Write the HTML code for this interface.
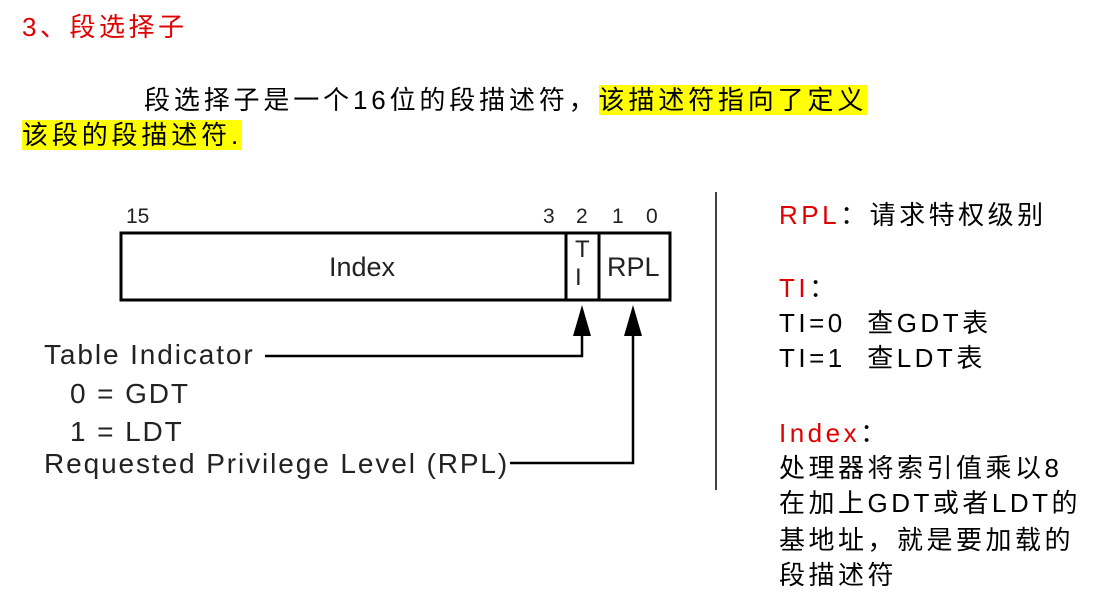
<!DOCTYPE html>
<html><head><meta charset="utf-8"><style>
body{margin:0;width:1108px;height:611px;background:#fff;position:relative;overflow:hidden;font-family:"Liberation Sans","Noto Sans CJK SC",sans-serif;}
.t{position:absolute;white-space:nowrap;font-size:26px;letter-spacing:3.5px;line-height:32px;color:#000}
.r{color:#e00000}
.hl{background:#ffff00}
.d{position:absolute;white-space:nowrap;font-family:"Liberation Sans",sans-serif;color:#222}
.b{font-size:28px;letter-spacing:1.9px}
</style></head><body>
<div class="t r" style="left:22px;top:11px">3、段选择子</div>
<div class="t" style="left:144px;top:84px;letter-spacing:3.85px">段选择子是一个16位的段描述符，<span class="hl">该描述符指向了定义</span></div>
<div class="t" style="left:22px;top:119px;letter-spacing:3.85px"><span class="hl">该段的段描述符.</span></div>

<svg style="position:absolute;left:0;top:0" width="1108" height="611">
<rect x="121" y="233" width="549" height="67" fill="none" stroke="#000" stroke-width="3"/>
<line x1="566" y1="233" x2="566" y2="300" stroke="#000" stroke-width="3"/>
<line x1="599" y1="233" x2="599" y2="300" stroke="#000" stroke-width="3"/>
<polyline points="265,356 582,356 582,325" fill="none" stroke="#000" stroke-width="2.5"/>
<polygon points="582,305 573,336 591,336" fill="#000"/>
<polyline points="510,463 633,463 633,325" fill="none" stroke="#000" stroke-width="2.5"/>
<polygon points="633,305 624,336 642,336" fill="#000"/>
<line x1="716" y1="192" x2="716" y2="490" stroke="#000" stroke-width="1.5"/>
</svg>
<div class="d" style="left:126px;top:205px;font-size:21px">15</div>
<div class="d" style="left:543px;top:205px;font-size:21px">3</div>
<div class="d" style="left:576px;top:205px;font-size:21px">2</div>
<div class="d" style="left:612px;top:205px;font-size:21px">1</div>
<div class="d" style="left:646px;top:205px;font-size:21px">0</div>
<div class="d" style="left:329px;top:252px;font-size:27px">Index</div>
<div class="d" style="left:575px;top:236px;font-size:24px;line-height:28px">T<br>I</div>
<div class="d" style="left:607px;top:252px;font-size:27px">RPL</div>
<div class="d b" style="left:44px;top:339px">Table Indicator</div>
<div class="d b" style="left:70px;top:378px">0 = GDT</div>
<div class="d b" style="left:70px;top:416px">1 = LDT</div>
<div class="d b" style="left:44px;top:448px">Requested Privilege Level (RPL)</div>

<div class="t" style="left:779px;top:199px"><span class="r">RPL</span>：请求特权级别</div>
<div class="t r" style="left:779px;top:272px">TI<span style="color:#000">：</span></div>
<div class="t" style="left:779px;top:307px">TI=0&nbsp; 查GDT表</div>
<div class="t" style="left:779px;top:342px">TI=1&nbsp; 查LDT表</div>
<div class="t" style="left:779px;top:417px"><span class="r">Index</span>：</div>
<div class="t" style="left:779px;top:452px">处理器将索引值乘以8</div>
<div class="t" style="left:779px;top:487px">在加上GDT或者LDT的</div>
<div class="t" style="left:779px;top:524px">基地址，就是要加载的</div>
<div class="t" style="left:779px;top:559px">段描述符</div>
</body></html>
